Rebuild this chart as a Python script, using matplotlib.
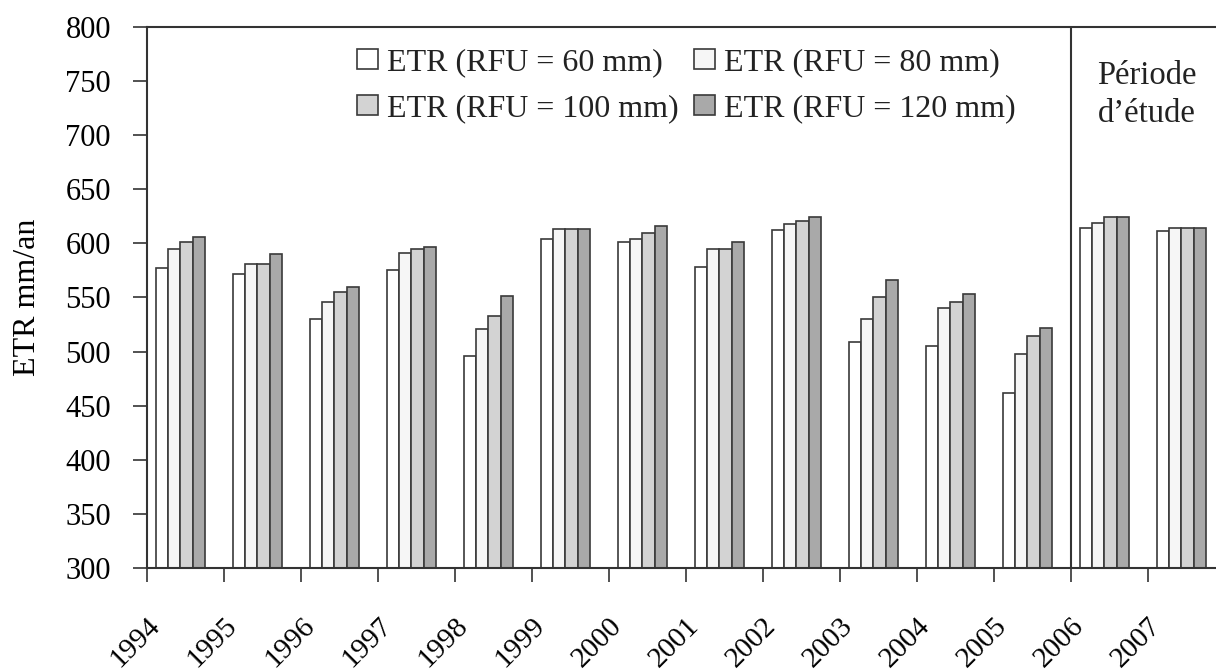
import matplotlib
matplotlib.use("Agg")
import matplotlib.pyplot as plt
from matplotlib.patches import Patch

years = ["1994", "1995", "1996", "1997", "1998", "1999", "2000",
         "2001", "2002", "2003", "2004", "2005", "2006", "2007"]
etr_60 = [577, 572, 530, 575, 496, 604, 601, 578, 612, 509, 505, 462, 614, 611]
etr_80 = [595, 581, 546, 591, 521, 613, 604, 595, 618, 530, 540, 498, 619, 614]
etr_100 = [601, 581, 555, 595, 533, 613, 610, 595, 621, 550, 546, 514, 624, 614]
etr_120 = [606, 590, 560, 597, 551, 613, 616, 601, 624, 566, 553, 522, 624, 614]
series_labels = ["ETR (RFU = 60 mm)", "ETR (RFU = 80 mm)",
                 "ETR (RFU = 100 mm)", "ETR (RFU = 120 mm)"]
series = [etr_60, etr_80, etr_100, etr_120]
colors = ["#ffffff", "#f6f6f6", "#d3d3d3", "#a9a9a9"]
study_start = "2006"

plt.rcParams["font.family"] = ["Liberation Serif", "DejaVu Serif"]
plt.rcParams["font.size"] = 22

fig = plt.figure(figsize=(12.16, 6.71), dpi=100)
W, H = 1216, 671
ax = fig.add_axes([147 / W, (H - 568) / H, (W - 147) / W, 541 / H])

n = len(years)
bar_w = 0.157
start = 0.12
edge = "#3a3a3a"
for k, (vals, c) in enumerate(zip(series, colors)):
    xs = [i + start + bar_w * (k + 0.5) for i in range(n)]
    ax.bar(xs, vals, width=bar_w, color=c, edgecolor=edge, linewidth=1.2,
           zorder=2)

ax.set_ylim(300, 800)
ax.set_yticks(range(300, 801, 50))
ax.set_xlim(0, (W - 147) / 77.0)

# tick marks at category boundaries, labels slightly to the right
ax.set_xticks(range(n))
ax.set_xticklabels([""] * n)
ax.set_xticks([i + 0.24 for i in range(n)], minor=True)
ax.set_xticklabels(years, minor=True, rotation=45, ha="right", va="top",
                   fontsize=21)

ax.tick_params(axis="x", which="major", direction="out", length=10, width=1.2,
               color="#333333")
ax.tick_params(axis="x", which="minor", length=0, pad=32)
ax.tick_params(axis="y", direction="out", length=10, width=1.2, pad=16,
               color="#333333")

for s in ["left", "bottom", "top"]:
    ax.spines[s].set_linewidth(1.5)
    ax.spines[s].set_color("#333333")
ax.spines["right"].set_visible(False)

# separator for the study period
sep = years.index(study_start)
ax.axvline(sep, color="#333333", linewidth=1.5, zorder=3)
ax.text(1147 / W, (H - 60) / H, "Période\nd\u2019étude", transform=fig.transFigure,
        ha="center", va="top", fontsize=23.5, linespacing=1.35, color="#222222")

ax.set_ylabel("ETR mm/an", fontsize=23)
ax.yaxis.set_label_coords(-0.098, 0.5)

handles = [Patch(facecolor=c, edgecolor=edge, linewidth=1.2) for c in colors]
order = [0, 2, 1, 3]
leg = fig.legend([handles[i] for i in order], [series_labels[i] for i in order],
                 ncol=2, loc="upper left",
                 bbox_to_anchor=(357 / W, (H - 48) / H),
                 frameon=False, fontsize=23, handlelength=0.65, handleheight=0.6,
                 handletextpad=0.28, columnspacing=0.5, labelspacing=0.53,
                 borderpad=0, borderaxespad=0)
for t in leg.get_texts():
    t.set_color("#222222")

fig.savefig("out.png", dpi=100)
